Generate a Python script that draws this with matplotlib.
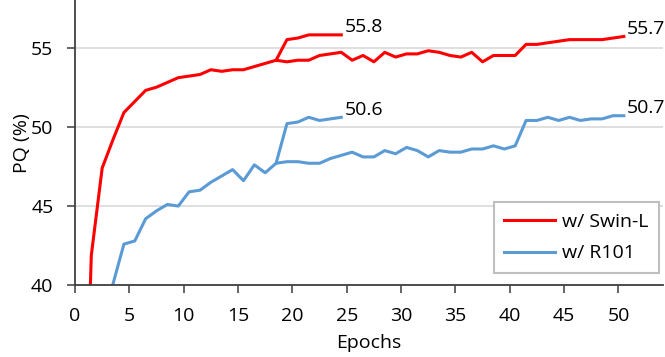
import numpy as np
import matplotlib.pyplot as plt

plt.rcParams['font.family'] = ['Open Sans', 'DejaVu Sans']

# epochs (points sit half-way between the integer ticks, as in the source chart)
epochs = np.arange(0, 51) + 0.5
swin_l = [20.0, 41.9, 47.4, 49.2, 50.9, 51.6, 52.3, 52.5, 52.8, 53.1,
          53.2, 53.3, 53.6, 53.5, 53.6, 53.6, 53.8, 54.0, 54.2, 54.1,
          54.2, 54.2, 54.5, 54.6, 54.7, 54.2, 54.5, 54.1, 54.7, 54.4,
          54.6, 54.6, 54.8, 54.7, 54.5, 54.4, 54.7, 54.1, 54.5, 54.5,
          54.5, 55.2, 55.2, 55.3, 55.4, 55.5, 55.5, 55.5, 55.5, 55.6,
          55.7]
r101 = [np.nan, np.nan, np.nan, 40.1, 42.6, 42.8, 44.2, 44.7, 45.1, 45.0,
        45.9, 46.0, 46.5, 46.9, 47.3, 46.6, 47.6, 47.1, 47.7, 47.8,
        47.8, 47.7, 47.7, 48.0, 48.2, 48.4, 48.1, 48.1, 48.5, 48.3,
        48.7, 48.5, 48.1, 48.5, 48.4, 48.4, 48.6, 48.6, 48.8, 48.6,
        48.8, 50.4, 50.4, 50.6, 50.4, 50.6, 50.4, 50.5, 50.5, 50.7,
        50.7]

# shorter runs branching off at epoch 18
short_epochs = np.arange(18, 25) + 0.5
swin_l_short = [54.2, 55.5, 55.6, 55.8, 55.8, 55.8, 55.8]
r101_short = [47.7, 50.2, 50.3, 50.6, 50.4, 50.5, 50.6]

red = '#ff0000'
blue = '#5b9bd5'

fig = plt.figure(figsize=(6.65, 3.57), dpi=100)
ax = fig.add_axes([0.1128, 0.2008, 0.8842, 0.7992])

ax.plot(epochs, swin_l, c=red, lw=2.2, label='w/ Swin-L')
ax.plot(epochs, r101, c=blue, lw=2.2, label='w/ R101')
ax.plot(short_epochs, swin_l_short, c=red, lw=2.2)
ax.plot(short_epochs, r101_short, c=blue, lw=2.2)

for xs, ys in [(short_epochs, swin_l_short), (epochs, swin_l),
               (short_epochs, r101_short), (epochs, r101)]:
    ax.annotate('%.1f' % ys[-1], (xs[-1], ys[-1]), xytext=(2.2, 2),
                textcoords='offset points', va='baseline', fontsize=14,
                annotation_clip=False)

ax.set_xlim(0, 54.1)
ax.set_ylim(40, 58)
ax.set_xticks(range(0, 51, 5))
ax.set_yticks([40, 45, 50, 55])
ax.grid(axis='y', color='#d9d9d9', lw=1.2)
ax.set_axisbelow(True)
for s in ['top', 'right']:
    ax.spines[s].set_visible(False)
for s in ['left', 'bottom']:
    ax.spines[s].set_color('#404040')
    ax.spines[s].set_linewidth(1.3)
ax.tick_params(axis='both', length=5.5, width=1.3, color='#595959', labelsize=14)
ax.tick_params(axis='y', pad=10)
ax.tick_params(axis='x', pad=10)
ax.set_xlabel('Epochs', fontsize=14)
ax.set_ylabel('PQ (%)', fontsize=14)
ax.xaxis.set_label_coords(0.5, -0.172)
ax.yaxis.set_label_coords(-0.075, 0.5)

leg = ax.legend(loc='lower right', bbox_to_anchor=(0.993, 0.043), fontsize=14,
                handlelength=2.6, handletextpad=0.35, fancybox=False,
                framealpha=1, edgecolor='#bfbfbf', borderpad=0.55,
                labelspacing=0.68, borderaxespad=0)
leg.get_frame().set_linewidth(1.5)

plt.savefig('out.png', dpi=100)
